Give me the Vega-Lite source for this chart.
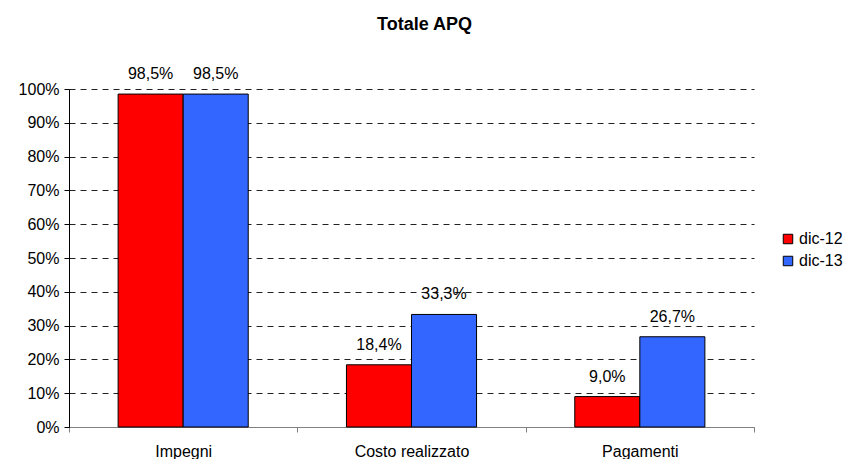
{
  "$schema": "https://vega.github.io/schema/vega-lite/v6.json",
  "width": 685,
  "height": 338,
  "autosize": {"type": "none"},
  "padding": {"left": 69, "top": 89, "right": 95, "bottom": 32},
  "background": "white",
  "config": {
    "locale": {"number": {"decimal": ",", "thousands": ".", "grouping": [3], "currency": ["", " €"]}},
    "font": "Liberation Sans",
    "view": {"stroke": null}
  },
  "title": {
    "text": "Totale APQ",
    "font": "Liberation Sans",
    "fontSize": 18,
    "fontWeight": "bold",
    "color": "black",
    "offset": 32,
    "dx": 13
  },
  "data": {
    "values": [
      {"voce": "Impegni", "periodo": "dic-12", "valore": 0.985},
      {"voce": "Impegni", "periodo": "dic-13", "valore": 0.985},
      {"voce": "Costo realizzato", "periodo": "dic-12", "valore": 0.184},
      {"voce": "Costo realizzato", "periodo": "dic-13", "valore": 0.333},
      {"voce": "Pagamenti", "periodo": "dic-12", "valore": 0.09},
      {"voce": "Pagamenti", "periodo": "dic-13", "valore": 0.267}
    ]
  },
  "encoding": {
    "x": {
      "field": "voce",
      "type": "nominal",
      "sort": ["Impegni", "Costo realizzato", "Pagamenti"],
      "scale": {"paddingInner": 0, "paddingOuter": 0},
      "axis": {
        "title": null,
        "labelAngle": 0,
        "labelFont": "Liberation Sans",
        "labelFontSize": 16,
        "labelColor": "black",
        "labelPadding": 11,
        "tickBand": "extent",
        "tickSize": 5,
        "tickColor": "#808080",
        "domainColor": "#808080",
        "grid": false
      }
    },
    "xOffset": {
      "field": "periodo",
      "type": "nominal",
      "scale": {"paddingInner": 0, "paddingOuter": 0.755}
    },
    "y": {
      "field": "valore",
      "type": "quantitative",
      "scale": {"domain": [0, 1], "nice": false},
      "axis": {
        "title": null,
        "values": [0, 0.1, 0.2, 0.3, 0.4, 0.5, 0.6, 0.7, 0.8, 0.9, 1],
        "format": ".0%",
        "labelFont": "Liberation Sans",
        "labelFontSize": 16,
        "labelColor": "black",
        "labelPadding": 5,
        "tickSize": 5,
        "tickColor": "black",
        "domainColor": "black",
        "grid": true,
        "gridColor": "#222222",
        "gridDash": [6, 5],
        "gridWidth": 1
      }
    }
  },
  "layer": [
    {
      "mark": {"type": "bar", "stroke": "black", "strokeWidth": 1},
      "encoding": {
        "color": {
          "field": "periodo",
          "type": "nominal",
          "scale": {"domain": ["dic-12", "dic-13"], "range": ["#FF0000", "#3366FF"]},
          "legend": {
            "title": null,
            "orient": "none",
            "legendX": 711,
            "legendY": 142,
            "symbolType": "square",
            "symbolSize": 90,
            "symbolStrokeColor": "black",
            "symbolStrokeWidth": 1,
            "labelFont": "Liberation Sans",
            "labelFontSize": 16,
            "labelColor": "black",
            "rowPadding": 6,
            "labelOffset": 3
          }
        }
      }
    },
    {
      "mark": {"type": "text", "baseline": "bottom", "dy": -12, "fontSize": 16, "font": "Liberation Sans", "color": "black"},
      "encoding": {
        "text": {"field": "valore", "type": "quantitative", "format": ".1%"}
      }
    }
  ]
}
